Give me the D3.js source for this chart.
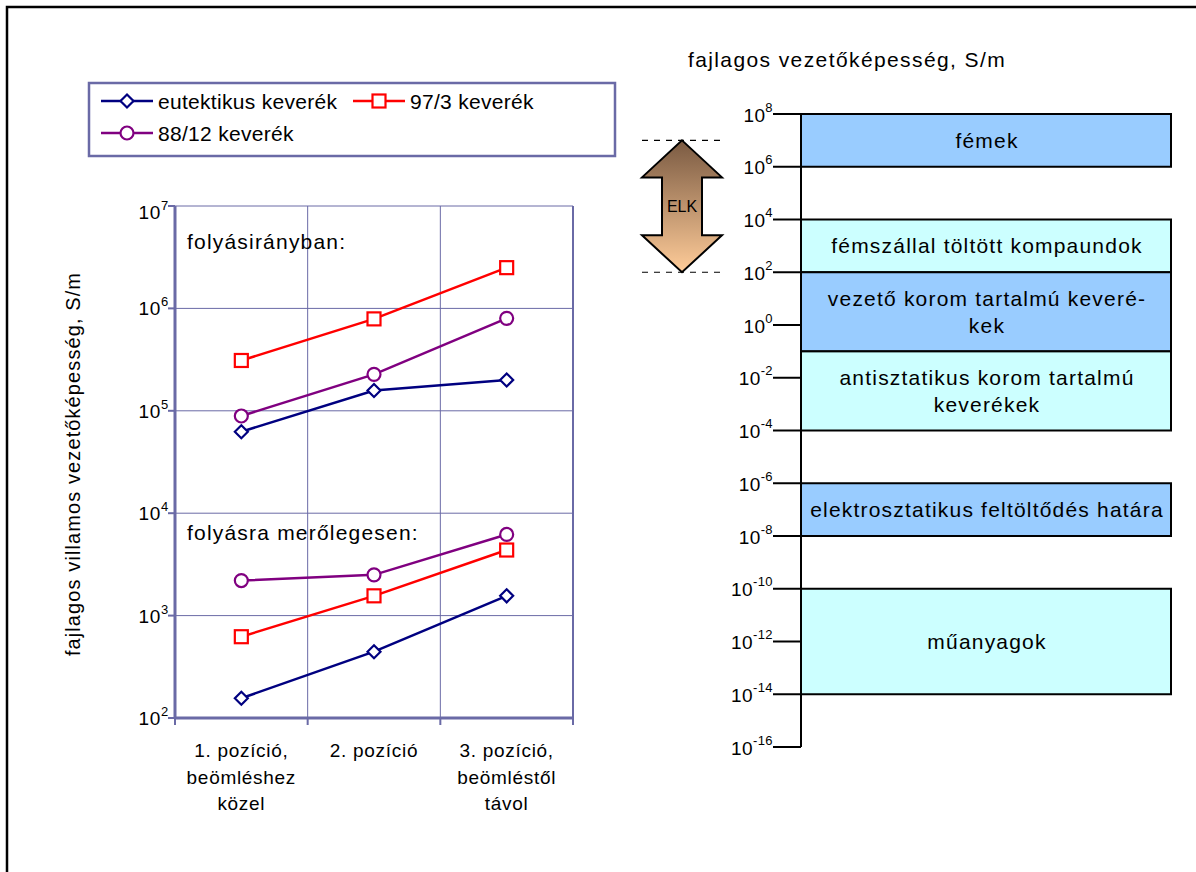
<!DOCTYPE html>
<html>
<head>
<meta charset="utf-8">
<script src="https://cdn.jsdelivr.net/npm/d3@7"></script>
<style>
  body { margin: 0; background: #fff; }
  svg { display: block; font-family: "Liberation Sans", Arial, sans-serif; }
</style>
</head>
<body>
<div id="chart"></div>
<script>
// ---- data ----
const categories = [["1. pozíció,", "beömléshez", "közel"], ["2. pozíció"], ["3. pozíció,", "beömléstől", "távol"]];
const seriesNames = ["eutektikus keverék", "97/3 keverék", "88/12 keverék"];
// folyásirányban
const flowValues = [
  [62500, 158000, 200000],
  [310000, 790000, 2500000],
  [89000, 227000, 800000]
];
// folyásra merőlegesen
const perpValues = [
  [156, 444, 1560],
  [622, 1560, 4370],
  [2200, 2500, 6200]
];
const leftTickExp = [2, 3, 4, 5, 6, 7];

const rightTickExp = [8, 6, 4, 2, 0, -2, -4, -6, -8, -10, -12, -14, -16];
const classLabels = [
  ["fémek"],
  ["fémszállal töltött kompaundok"],
  ["vezető korom tartalmú keveré-", "kek"],
  ["antisztatikus korom tartalmú", "keverékek"],
  ["elektrosztatikus feltöltődés határa"],
  ["műanyagok"]
];
const classLow = [1e6, 1e2, 1e-1, 1e-4, 1e-8, 1e-14];
const classHigh = [1e8, 1e4, 1e2, 1e-1, 1e-6, 1e-10];
const elkRange = [1e2, 1e7];

// ---- styles ----
const colors = ["#000080", "#ff0000", "#800080"];
const axisColor = "#6a6aa6";
const bandFill = ["#99ccff", "#ccffff"];

const svg = d3.select("#chart").append("svg")
      .attr("width", 1196)
      .attr("height", 872);

// outer frame
svg.append("rect")
      .attr("x", 7).attr("y", 7)
      .attr("width", 1300).attr("height", 1000)
      .attr("fill", "none")
      .attr("stroke", "#000")
      .attr("stroke-width", 2.5);

// ================= left chart =================
const x = d3.scaleBand()
      .domain(d3.range(categories.length))
      .range([175, 573])
      .padding(0);

const y = d3.scaleLog()
      .domain([1e2, 1e7])
      .range([718, 206]);

const cx = i => x(i) + x.bandwidth() / 2;

// grid
svg.append("g").selectAll("line")
      .data(leftTickExp.slice(1))
      .join("line")
      .attr("x1", 175).attr("x2", 573)
      .attr("y1", d => y(Math.pow(10, d)))
      .attr("y2", d => y(Math.pow(10, d)))
      .attr("stroke", axisColor)
      .attr("stroke-width", 1);

svg.append("g").selectAll("line")
      .data(d3.range(1, categories.length + 1))
      .join("line")
      .attr("x1", d => x(0) + d * x.bandwidth())
      .attr("x2", d => x(0) + d * x.bandwidth())
      .attr("y1", y(1e7)).attr("y2", y(1e2))
      .attr("stroke", axisColor)
      .attr("stroke-width", d => d === categories.length ? 2 : 1);

// axes
svg.append("line")
      .attr("x1", 175).attr("x2", 175)
      .attr("y1", y(1e7)).attr("y2", y(1e2))
      .attr("stroke", axisColor).attr("stroke-width", 3);
svg.append("line")
      .attr("x1", 174).attr("x2", 574)
      .attr("y1", y(1e2)).attr("y2", y(1e2))
      .attr("stroke", axisColor).attr("stroke-width", 3);

// y ticks + labels
const yt = svg.append("g");
yt.selectAll("line")
      .data(leftTickExp)
      .join("line")
      .attr("x1", 168).attr("x2", 175)
      .attr("y1", d => y(Math.pow(10, d)))
      .attr("y2", d => y(Math.pow(10, d)))
      .attr("stroke", axisColor).attr("stroke-width", 2);

const ylab = yt.selectAll("text")
      .data(leftTickExp)
      .join("text")
      .attr("x", 169)
      .attr("y", d => y(Math.pow(10, d)) + (d === 7 ? 13 : 7))
      .attr("text-anchor", "end")
      .attr("font-size", 19)
      .attr("letter-spacing", 0.7)
      .attr("fill", "#000");
ylab.append("tspan").text("10");
ylab.append("tspan").attr("dy", -9).attr("font-size", 13).text(d => d);

// x ticks
svg.append("g").selectAll("line")
      .data(d3.range(0, categories.length + 1))
      .join("line")
      .attr("x1", d => x(0) + d * x.bandwidth())
      .attr("x2", d => x(0) + d * x.bandwidth())
      .attr("y1", y(1e2)).attr("y2", y(1e2) + 7)
      .attr("stroke", axisColor).attr("stroke-width", 2);

// x labels
const xl = svg.append("g").selectAll("text")
      .data(categories)
      .join("text")
      .attr("text-anchor", "middle")
      .attr("font-size", 19)
      .attr("letter-spacing", 0.7)
      .attr("fill", "#000");
xl.each(function (lines, i) {
      d3.select(this).selectAll("tspan")
            .data(lines)
            .join("tspan")
            .attr("x", cx(i))
            .attr("y", (d, j) => 757 + j * 26.5)
            .text(d => d);
});

// y title
svg.append("text")
      .attr("transform", "translate(80,464) rotate(-90)")
      .attr("text-anchor", "middle")
      .attr("font-size", 20)
      .attr("letter-spacing", 1.1)
      .text("fajlagos villamos vezetőképesség, S/m");

// annotations
svg.append("text")
      .attr("x", 187).attr("y", 249)
      .attr("font-size", 21).attr("letter-spacing", 1.2)
      .text("folyásirányban:");
svg.append("text")
      .attr("x", 187).attr("y", 540)
      .attr("font-size", 21).attr("letter-spacing", 1.2)
      .text("folyásra merőlegesen:");

// markers
function drawMarker(g, type, px, py, color) {
      if (type === 0) {
            g.append("path")
                  .attr("d", `M${px},${py - 6.5}L${px + 6.5},${py}L${px},${py + 6.5}L${px - 6.5},${py}Z`)
                  .attr("fill", "#fff").attr("stroke", color).attr("stroke-width", 2.2);
      } else if (type === 1) {
            g.append("rect")
                  .attr("x", px - 6.5).attr("y", py - 6.5)
                  .attr("width", 13).attr("height", 13)
                  .attr("fill", "#fff").attr("stroke", color).attr("stroke-width", 2.2);
      } else {
            g.append("circle")
                  .attr("cx", px).attr("cy", py).attr("r", 6.5)
                  .attr("fill", "#fff").attr("stroke", color).attr("stroke-width", 2.2);
      }
}

const line = d3.line()
      .x((d, i) => cx(i))
      .y(d => y(d));

[flowValues, perpValues].forEach(group => {
      group.forEach((vals, s) => {
            const g = svg.append("g");
            g.append("path")
                  .datum(vals)
                  .attr("fill", "none")
                  .attr("stroke", colors[s])
                  .attr("stroke-width", 2.5)
                  .attr("d", line);
            vals.forEach((v, i) => drawMarker(g, s, cx(i), y(v), colors[s]));
      });
});

// legend
const legend = svg.append("g");
legend.append("rect")
      .attr("x", 89).attr("y", 83)
      .attr("width", 526).attr("height", 73)
      .attr("fill", "#fff")
      .attr("stroke", axisColor).attr("stroke-width", 2.5);
const legendPos = [[101, 101], [353, 101], [101, 133]];
seriesNames.forEach((name, s) => {
      const [lx, ly] = legendPos[s];
      legend.append("line")
            .attr("x1", lx).attr("x2", lx + 52)
            .attr("y1", ly).attr("y2", ly)
            .attr("stroke", colors[s]).attr("stroke-width", 2.5);
      drawMarker(legend, s, lx + 26, ly, colors[s]);
      legend.append("text")
            .attr("x", lx + 57).attr("y", ly + 7.5)
            .attr("font-size", 21).attr("letter-spacing", 0.3)
            .text(name);
});

// ================= right chart =================
const r = d3.scaleLog()
      .domain([1e-16, 1e8])
      .range([747, 114]);
const rx0 = 801, rx1 = 1171;

svg.append("text")
      .attr("x", 847).attr("y", 67)
      .attr("text-anchor", "middle")
      .attr("font-size", 21).attr("letter-spacing", 1.4)
      .text("fajlagos vezetőképesség, S/m");

// bands
const bands = svg.append("g");
classLabels.forEach((lines, i) => {
      const top = r(classHigh[i]), bot = r(classLow[i]);
      bands.append("rect")
            .attr("x", rx0).attr("y", top)
            .attr("width", rx1 - rx0).attr("height", bot - top)
            .attr("fill", bandFill[i % 2])
            .attr("stroke", "#000").attr("stroke-width", 2);
      const mid = (top + bot) / 2;
      bands.append("text")
            .attr("text-anchor", "middle")
            .attr("font-size", 21).attr("letter-spacing", 1.2)
            .selectAll("tspan")
            .data(lines)
            .join("tspan")
            .attr("x", (rx0 + rx1) / 2 + 1)
            .attr("y", (d, j) => mid + 7.5 + (j - (lines.length - 1) / 2) * 26.5)
            .text(d => d);
});

// axis
svg.append("line")
      .attr("x1", rx0).attr("x2", rx0)
      .attr("y1", r(1e8)).attr("y2", r(1e-16))
      .attr("stroke", "#000").attr("stroke-width", 2);
const rt = svg.append("g");
rt.selectAll("line")
      .data(rightTickExp)
      .join("line")
      .attr("x1", 773).attr("x2", rx0)
      .attr("y1", d => r(Math.pow(10, d)))
      .attr("y2", d => r(Math.pow(10, d)))
      .attr("stroke", "#000").attr("stroke-width", 2);
const rlab = rt.selectAll("text")
      .data(rightTickExp)
      .join("text")
      .attr("x", 773)
      .attr("y", d => r(Math.pow(10, d)) + 7.5)
      .attr("text-anchor", "end")
      .attr("font-size", 19)
      .attr("letter-spacing", 0.4);
rlab.append("tspan").text("10");
rlab.append("tspan").attr("dy", -10).attr("font-size", 13).text(d => d);

// ELK arrow
const defs = svg.append("defs");
const grad = defs.append("linearGradient")
      .attr("id", "elkGrad")
      .attr("x1", 0).attr("x2", 0).attr("y1", 0).attr("y2", 1);
grad.append("stop").attr("offset", "0%").attr("stop-color", "#7a5a42");
grad.append("stop").attr("offset", "100%").attr("stop-color", "#ffcc99");

const ay0 = r(elkRange[1]), ay1 = r(elkRange[0]);
const ax = 682, headW = 40, shaftW = 20, headH = 37;
svg.append("path")
      .attr("d", `M${ax},${ay0}L${ax + headW},${ay0 + headH}L${ax + shaftW},${ay0 + headH}` +
            `L${ax + shaftW},${ay1 - headH}L${ax + headW},${ay1 - headH}L${ax},${ay1}` +
            `L${ax - headW},${ay1 - headH}L${ax - shaftW},${ay1 - headH}L${ax - shaftW},${ay0 + headH}` +
            `L${ax - headW},${ay0 + headH}Z`)
      .attr("fill", "url(#elkGrad)")
      .attr("stroke", "#000").attr("stroke-width", 2);
svg.append("text")
      .attr("x", ax).attr("y", (ay0 + ay1) / 2 + 6)
      .attr("text-anchor", "middle")
      .attr("font-size", 16)
      .text("ELK");
svg.append("g").selectAll("line")
      .data(elkRange)
      .join("line")
      .attr("x1", 642).attr("x2", 720)
      .attr("y1", d => r(d)).attr("y2", d => r(d))
      .attr("stroke", "#000").attr("stroke-width", 1.2)
      .attr("stroke-dasharray", "6,6");
</script>
</body>
</html>
